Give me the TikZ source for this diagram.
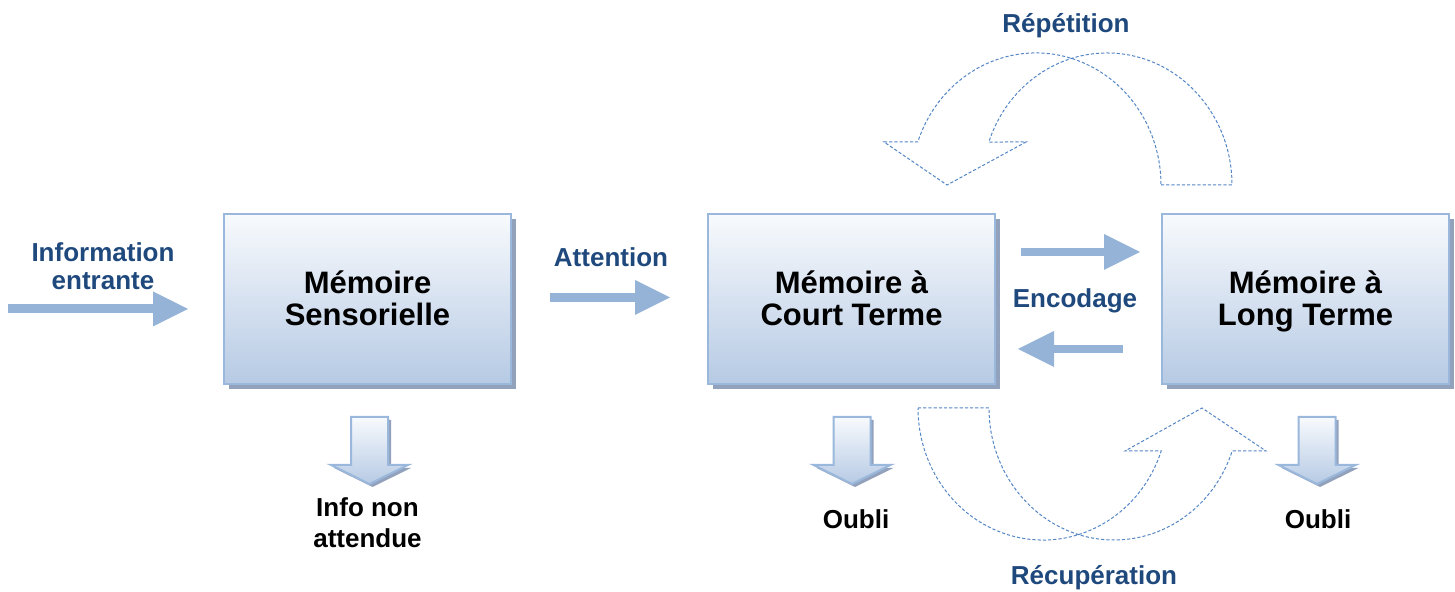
\documentclass[tikz,border=0pt]{standalone}
\usepackage{fontspec}
\setmainfont{Liberation Sans}
\usetikzlibrary{arrows.meta,shadows}
\definecolor{boxborder}{RGB}{154,183,220}
\definecolor{boxtop}{RGB}{248,250,253}
\definecolor{boxbot}{RGB}{182,202,228}
\definecolor{shadowc}{RGB}{128,146,176}
\definecolor{arrowblue}{RGB}{149,179,215}
\definecolor{dashblue}{RGB}{84,134,198}
\definecolor{labelblue}{RGB}{31,73,125}
\tikzset{
  membox/.style={rectangle, minimum width=143.5pt, minimum height=85pt, draw=boxborder, line width=1pt,
    top color=boxtop, bottom color=boxbot,
    drop shadow={shadow xshift=2.5pt, shadow yshift=-2.5pt, fill=shadowc, opacity=0.85}},
  boxtxt/.style={anchor=base, inner sep=0pt, font=\bfseries\fontsize{15.5}{17}\selectfont, text=black},
  bluelbl/.style={anchor=base, inner sep=0pt, font=\bfseries\fontsize{13}{15}\selectfont, text=labelblue},
  blacklbl/.style={anchor=base, inner sep=0pt, font=\bfseries\fontsize{13}{15}\selectfont, text=black},
  fatarrow/.style={draw=arrowblue, line width=4.5pt, -{Triangle[length=17.5pt, width=17.5pt, line width=0pt]}},
  midarrow/.style={draw=arrowblue, line width=4pt, -{Triangle[length=18pt, width=18pt, line width=0pt]}},
  dashedarrow/.style={draw=dashblue, line width=0.5pt, dash pattern=on 1.6pt off 1pt},
  dnarrow/.pic={
    \fill[shadowc, opacity=0.85] (-18.5+3,-3) -- (18.5+3,-3) -- (18.5+3,-51) -- (38.5+3,-51) -- (3,-70) -- (-38.5+3,-51) -- (-18.5+3,-51) -- cycle;
    \draw[draw=boxborder, line width=1pt, top color=boxtop, bottom color=boxbot]
      (-18.5,0) -- (18.5,0) -- (18.5,-48) -- (38.5,-48) -- (0,-67) -- (-38.5,-48) -- (-18.5,-48) -- cycle;
  }
}
\begin{document}
\begin{tikzpicture}[x=0.5pt, y=0.5pt]
\useasboundingbox (0,0) rectangle (1455,592);

% memory boxes
\node[membox] (ms) at (367.5,293) {};
\node[membox] (mct) at (851.5,293) {};
\node[membox] (mlt) at (1305.5,293) {};

\node[boxtxt] (ms1) at (367.5,298) {Mémoire};
\node[boxtxt] (ms2) at (367.5,266) {Sensorielle};
\node[boxtxt] (mct1) at (851.5,298) {Mémoire à};
\node[boxtxt] (mct2) at (851.5,266) {Court Terme};
\node[boxtxt] (mlt1) at (1305.5,298) {Mémoire à};
\node[boxtxt] (mlt2) at (1305.5,266) {Long Terme};

% solid arrows
\coordinate (ie-s) at (8,283);
\coordinate (ie-e) at (188,283);
\coordinate (att-s) at (550,294.5);
\coordinate (att-e) at (670,294.5);
\coordinate (encR-s) at (1021,340);
\coordinate (encR-e) at (1140,340);
\coordinate (encL-s) at (1123,243);
\coordinate (encL-e) at (1018,243);
\draw[fatarrow] (ie-s) -- (ie-e);
\draw[fatarrow] (att-s) -- (att-e);
\draw[midarrow] (encR-s) -- (encR-e);
\draw[midarrow] (encL-s) -- (encL-e);

% labels
\node[bluelbl] (info1) at (103,330) {Information};
\node[bluelbl] (info2) at (103,302) {entrante};
\node[bluelbl] (attn) at (611,325) {Attention};
\node[bluelbl] (enc) at (1075,284) {Encodage};
\node[bluelbl] (rep) at (1066,559) {Répétition};
\node[bluelbl] (rec) at (1094,7) {Récupération};

% down arrows
\pic at (369.5,175) {dnarrow};
\pic at (852,175) {dnarrow};
\pic at (1317,175) {dnarrow};
\node[blacklbl] (ina1) at (367.5,75) {Info non};
\node[blacklbl] (ina2) at (367.5,44) {attendue};
\node[blacklbl] (oubli1) at (856,63) {Oubli};
\node[blacklbl] (oubli2) at (1318,63) {Oubli};

% repetition curved arrow
\draw[dashedarrow] (1161,407) -- (1232,407)
  arc[start angle=0, end angle=161, x radius=62.5pt, y radius=66pt]
  -- (1026,450) -- (947,407) -- (884,450) -- (917.8,450)
  arc[start angle=161, end angle=0, x radius=62.5pt, y radius=66pt] -- cycle;

% recuperation curved arrow
\draw[dashedarrow] (918,184) -- (989,184)
  arc[start angle=180, end angle=341, x radius=62.5pt, y radius=66pt]
  -- (1266,141) -- (1202,184) -- (1125,141) -- (1161.2,141)
  arc[start angle=341, end angle=180, x radius=62.5pt, y radius=66pt] -- cycle;
\end{tikzpicture}
\end{document}
